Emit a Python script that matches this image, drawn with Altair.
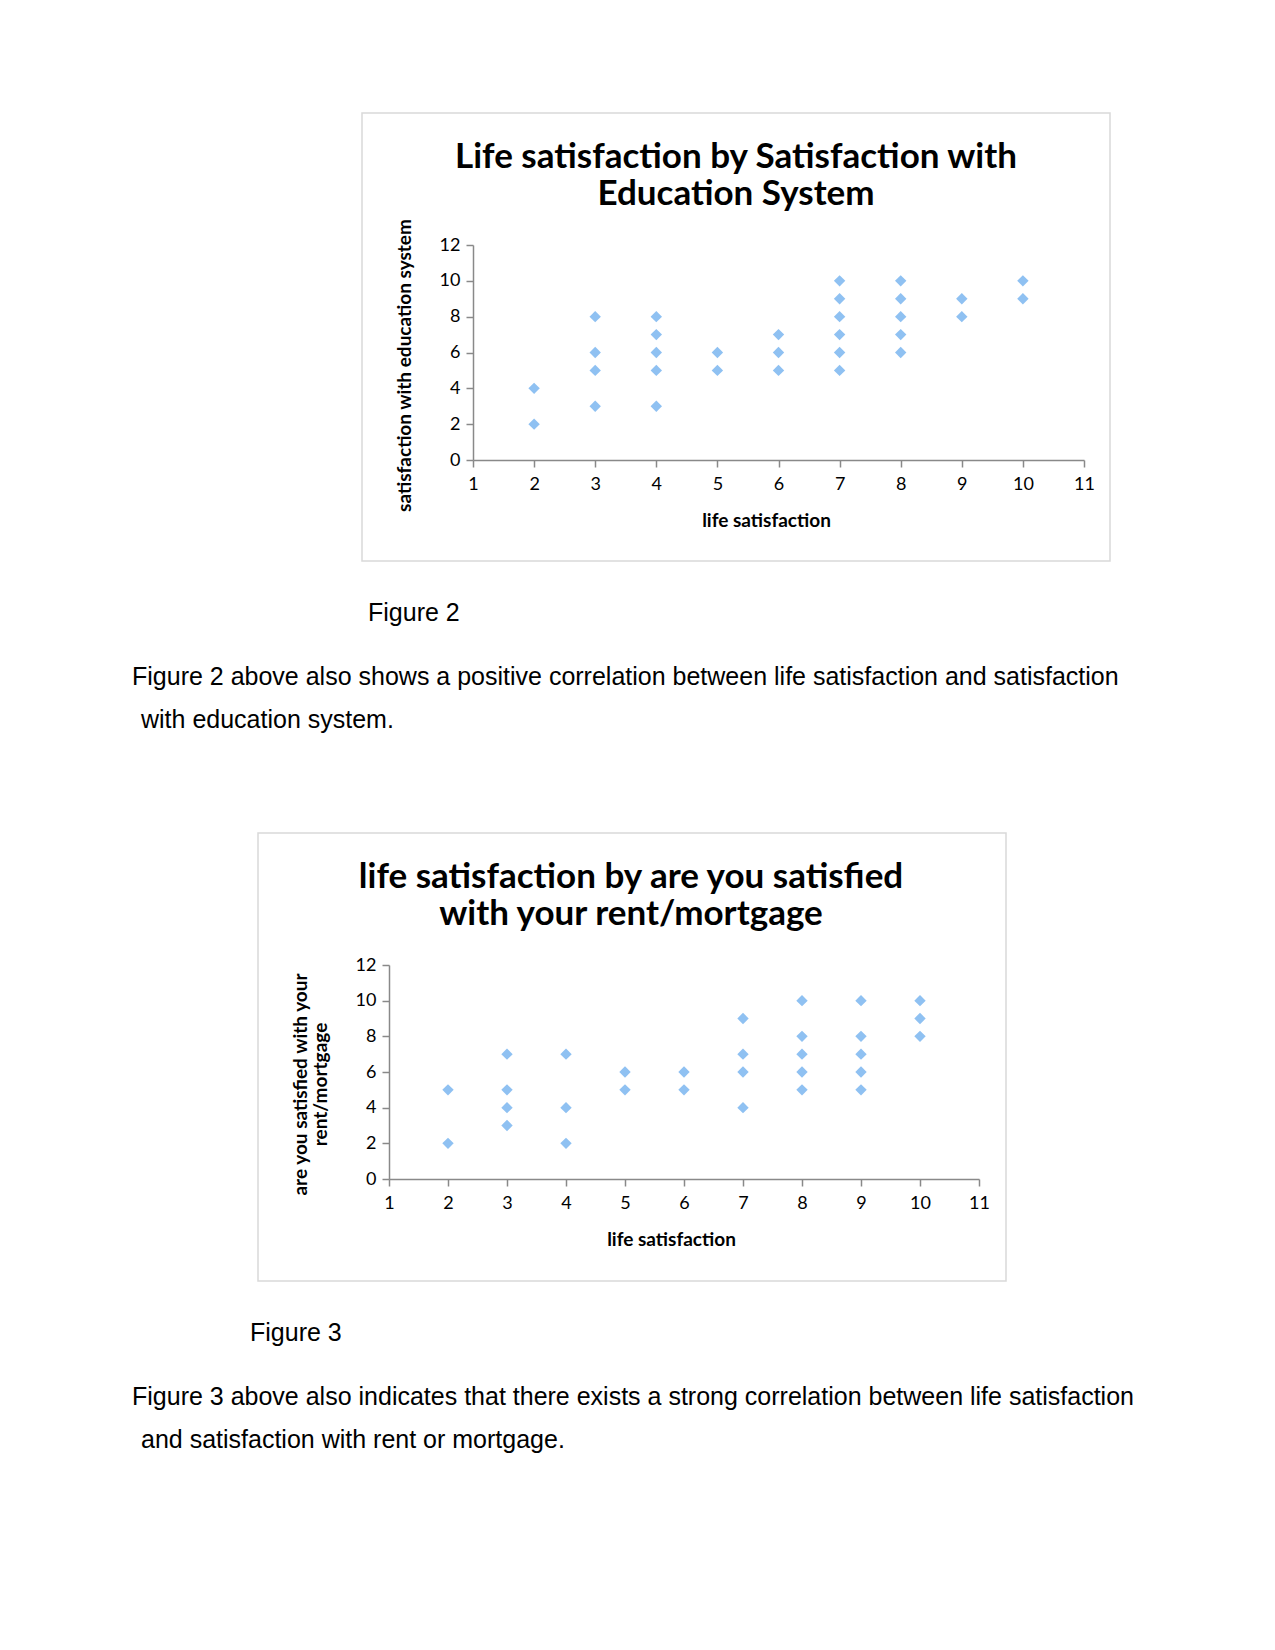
import altair as alt
import pandas as pd

# ---------------- data ----------------
fig2_life = [2, 2, 3, 3, 3, 3, 4, 4, 4, 4, 4, 5, 5, 6, 6, 6,
             7, 7, 7, 7, 7, 7, 8, 8, 8, 8, 8, 9, 9, 10, 10]
fig2_edu = [2, 4, 3, 5, 6, 8, 3, 5, 6, 7, 8, 5, 6, 5, 6, 7,
            5, 6, 7, 8, 9, 10, 6, 7, 8, 9, 10, 8, 9, 9, 10]

fig3_life = [2, 2, 3, 3, 3, 3, 4, 4, 4, 5, 5, 6, 6, 7, 7, 7, 7,
             8, 8, 8, 8, 8, 9, 9, 9, 9, 9, 10, 10, 10]
fig3_rent = [2, 5, 3, 4, 5, 7, 2, 4, 7, 5, 6, 5, 6, 4, 6, 7, 9,
             5, 6, 7, 8, 10, 5, 6, 7, 8, 10, 8, 9, 10]

x_ticks = [1, 2, 3, 4, 5, 6, 7, 8, 9, 10, 11]
y_ticks = [0, 2, 4, 6, 8, 10, 12]

title2 = ["Life satisfaction by Satisfaction with", "Education System"]
title3 = ["life satisfaction by are you satisfied", "with your rent/mortgage"]
xtitle = "life satisfaction"
ytitle2 = "satisfaction with education system"
ytitle3 = ["are you satisfied with your", "rent/mortgage"]
caption2 = "Figure 2"
caption3 = "Figure 3"
para2 = ["Figure 2 above also shows a positive correlation between life satisfaction and satisfaction",
         "with education system."]
para3 = ["Figure 3 above also indicates that there exists a strong correlation between life satisfaction",
         "and satisfaction with rent or mortgage."]

W, H = 1275, 1650
MARK = "#8FC1F2"
AXIS = "#898989"
BOX = "#D9D9D9"
LABEL_FONT = "Lato"
BODY_FONT = "Liberation Sans"

df2 = pd.DataFrame({"life": fig2_life, "val": fig2_edu})
df3 = pd.DataFrame({"life": fig3_life, "val": fig3_rent})
one = pd.DataFrame({"k": [0]})


def scatter(df, x0, x1, y0, y1, ytitle, ytitle_x, ytitle_y, xtitle_x):
    xaxis = alt.Axis(values=x_ticks, orient="bottom", offset=y0 - H, zindex=1,
                     domainColor=AXIS, tickColor=AXIS, domainWidth=1.5, tickWidth=1.5,
                     tickSize=7, labelFont=LABEL_FONT, labelFontSize=18, labelColor="#000000",
                     labelPadding=8, labelFlush=False, grid=False,
                     title=xtitle, titleFont=LABEL_FONT, titleFontSize=19, titleFontWeight="bold",
                     titleColor="#000000", titlePadding=18, titleX=xtitle_x)
    yaxis = alt.Axis(values=y_ticks, orient="left", offset=-x0, zindex=1,
                     domainColor=AXIS, tickColor=AXIS, domainWidth=1.5, tickWidth=1.5,
                     tickSize=7, labelFont=LABEL_FONT, labelFontSize=18, labelColor="#000000",
                     labelPadding=6, grid=False,
                     title=ytitle, titleFont=LABEL_FONT, titleFontSize=19, titleFontWeight="bold",
                     titleColor="#000000", titleX=ytitle_x, titleY=ytitle_y, titleAngle=270,
                     titleAlign="center", titleBaseline="middle", titleLineHeight=20)
    return alt.Chart(df).mark_point(shape="diamond", filled=True, size=130, color=MARK, opacity=1).encode(
        x=alt.X("life:Q", scale=alt.Scale(domain=[1, 11], range=[x0, x1], nice=False, zero=False), axis=xaxis),
        y=alt.Y("val:Q", scale=alt.Scale(domain=[0, 12], range=[y0, y1], nice=False), axis=yaxis),
    )


def box(x, x2, y, y2):
    return alt.Chart(one).mark_rect(fill="white", fillOpacity=0, stroke=BOX, strokeWidth=1.5).encode(
        x=alt.value(x), x2=alt.value(x2), y=alt.value(y), y2=alt.value(y2))


def text(lines, x, y, size, font, weight="normal", align="left", lh=None):
    df = pd.DataFrame({"t": [lines]})
    return alt.Chart(df).mark_text(font=font, fontSize=size, fontWeight=weight, align=align,
                                   baseline="middle", color="#000000",
                                   lineHeight=lh if lh else size * 1.2).encode(
        text="t", x=alt.value(x), y=alt.value(y))


s2 = scatter(df2, 473, 1084, 460, 245, ytitle2, -69, 365, 766)
s3 = scatter(df3, 389, 979, 1179, 965, ytitle3, -89, 1084, 671)

layers = [
    box(362, 1110, 113, 561),
    box(258, 1006, 833, 1281),
    s2,
    s3,
    text(title2, 736, 157, 35, LABEL_FONT, "bold", "center", 37),
    text(title3, 631, 877, 35, LABEL_FONT, "bold", "center", 37),
    text(caption2, 368, 613, 25, BODY_FONT),
    text(para2[0], 132, 677, 25, BODY_FONT),
    text(para2[1], 141, 720, 25, BODY_FONT),
    text(caption3, 250, 1333, 25, BODY_FONT),
    text(para3[0], 132, 1397, 25, BODY_FONT),
    text(para3[1], 141, 1440, 25, BODY_FONT),
]

chart = alt.layer(*layers).resolve_scale(x="independent", y="independent").resolve_axis(
    x="independent", y="independent"
).properties(
    width=W, height=H, padding=0, autosize=alt.AutoSizeParams(type="none"),
    background="white"
).configure_view(strokeWidth=0)

chart.save("out.html", embed_options={"renderer": "svg", "actions": False})
